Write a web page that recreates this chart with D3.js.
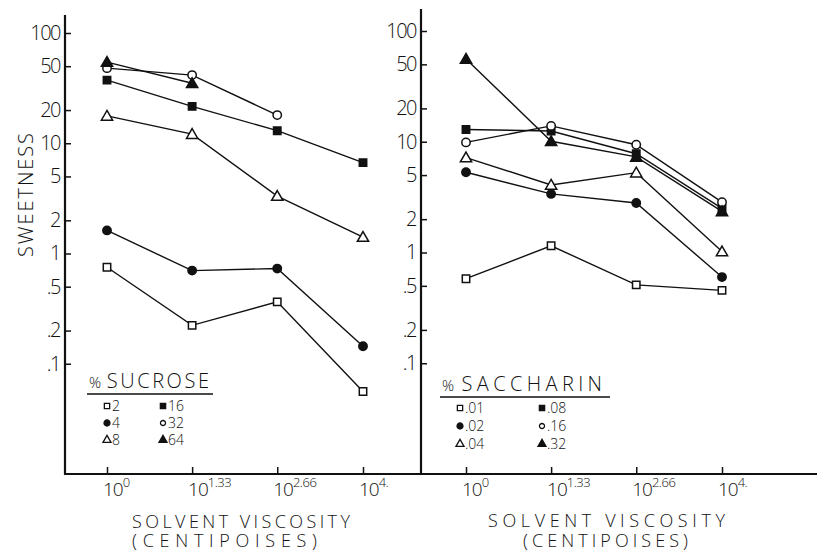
<!DOCTYPE html>
<html>
<head>
<meta charset="utf-8">
<script src="https://cdn.jsdelivr.net/npm/d3@7"></script>
<style>
  html, body { margin: 0; padding: 0; background: #fff; }
  svg { display: block; }
  text { font-family: "Open Sans", "DejaVu Sans", sans-serif; font-weight: 300; fill: #111; }
</style>
</head>
<body>
<div id="chart"></div>
<script>
// ---------- DATA ----------
const xExponents = [0, 1.33, 2.66, 4];
const xTickLabels = ["0", "1.33", "2.66", "4."];
const yTickValues = [100, 50, 20, 10, 5, 2, 1, 0.5, 0.2, 0.1];
const yTickLabels = ["100", "50", "20", "10", "5", "2", "1", ".5", ".2", ".1"];

const sucroseLabels = ["2", "4", "8", "16", "32", "64"];
const sucrose2  = [0.75, 0.223, 0.364, 0.056];
const sucrose4  = [1.62, 0.70, 0.73, 0.144];
const sucrose8  = [17.7, 12.1, 3.32, 1.41];
const sucrose16 = [37.4, 21.6, 13.0, 6.67];
const sucrose32 = [48, 41.5, 18];
const sucrose64 = [54.5, 35];

const saccharinLabels = [".01", ".02", ".04", ".08", ".16", ".32"];
const saccharin01 = [0.58, 1.15, 0.51, 0.455];
const saccharin02 = [5.3, 3.38, 2.8, 0.60];
const saccharin04 = [7.2, 4.07, 5.26, 1.02];
const saccharin08 = [12.9, 12.5, 7.8, 2.5];
const saccharin16 = [9.86, 13.9, 9.4, 2.85];
const saccharin32 = [56, 10.1, 7.3, 2.35];

// marker styles per series index: [shape, filled]
const markerStyles = [
  ["square", false], ["circle", true], ["triangle", false],
  ["square", true], ["circle", false], ["triangle", true]
];

// ---------- LAYOUT ----------
const W = 818, H = 553;
const baseY = 474;
const svg = d3.select("#chart").append("svg").attr("width", W).attr("height", H);

const panels = [
  { title: "SUCROSE", labels: sucroseLabels,
    series: [sucrose2, sucrose4, sucrose8, sucrose16, sucrose32, sucrose64],
    axisX: 65, axisTop: 15, xr: [107, 363], yr: [474, 33],
    legend: { x: 87, y: 388, w: 126, tw: 120, col1: 107, col2: 163, row0: 406, dy: 17 },
    t1: { x: 132, w: 218, y: 528 }, t2: { x: 132, w: 185, y: 547 } },
  { title: "SACCHARIN", labels: saccharinLabels,
    series: [saccharin01, saccharin02, saccharin04, saccharin08, saccharin16, saccharin32],
    axisX: 421, axisTop: 9, xr: [466, 722], yr: [474, 31],
    legend: { x: 440, y: 391, w: 170, tw: 160, col1: 460, col2: 542, row0: 408, dy: 18 },
    t1: { x: 488, w: 237, y: 527 }, t2: { x: 523, w: 165, y: 547 } }
];

function symbolPath(shape, size) {
  const t = shape === "square" ? d3.symbolSquare : shape === "circle" ? d3.symbolCircle : d3.symbolTriangle;
  return d3.symbol().type(t).size(size)();
}

// continuous baseline across both panels
svg.append("line").attr("x1", 64).attr("x2", 817).attr("y1", baseY).attr("y2", baseY)
  .attr("stroke", "#111").attr("stroke-width", 2.2);

panels.forEach(p => {
  const g = svg.append("g");
  const x = d3.scaleLinear().domain([0, 4]).range(p.xr);
  const y = d3.scaleLog().domain([0.01, 100]).range(p.yr);

  // y axis line
  g.append("line").attr("x1", p.axisX).attr("x2", p.axisX).attr("y1", p.axisTop).attr("y2", baseY + 1)
    .attr("stroke", "#111").attr("stroke-width", 2.2);

  // y axis ticks & labels
  const yAxis = d3.axisLeft(y).tickValues(yTickValues)
    .tickFormat((d, i) => yTickLabels[i]).tickSizeInner(-6).tickSizeOuter(0).tickPadding(5);
  const ya = g.append("g").attr("transform", `translate(${p.axisX},0)`).call(yAxis);
  ya.select(".domain").remove();
  ya.selectAll(".tick line").attr("stroke", "#111").attr("stroke-width", 1.5);
  ya.selectAll(".tick text").attr("font-size", 20).attr("letter-spacing", -1.5)
    .attr("font-family", "'Open Sans', 'DejaVu Sans', sans-serif").attr("fill", "#111");

  // x axis ticks
  const xAxis = d3.axisBottom(x).tickValues(xExponents).tickFormat("").tickSizeInner(-7).tickSizeOuter(0);
  const xa = g.append("g").attr("transform", `translate(0,${baseY})`).call(xAxis);
  xa.select(".domain").remove();
  xa.selectAll(".tick line").attr("stroke", "#111").attr("stroke-width", 1.5);
  xa.selectAll(".tick text").remove();
  // x tick labels with superscripts
  xExponents.forEach((e, i) => {
    const t = g.append("text").attr("x", x(e) - 4).attr("y", 496).attr("font-size", 19).attr("letter-spacing", -1);
    t.append("tspan").text("10");
    t.append("tspan").attr("dy", -9).attr("font-size", 13).attr("letter-spacing", -0.5).text(xTickLabels[i]);
  });

  // lines & markers
  const line = d3.line().x((d, i) => x(xExponents[i])).y(d => y(d));
  p.series.forEach(vals => {
    g.append("path").datum(vals).attr("d", line).attr("fill", "none")
      .attr("stroke", "#111").attr("stroke-width", 1.4);
  });
  p.series.forEach((vals, si) => {
    const [shape, filled] = markerStyles[si];
    g.selectAll(null).data(vals).enter().append("path")
      .attr("transform", (d, i) => `translate(${x(xExponents[i])},${y(d) + (shape === "triangle" ? 1 : 0)})`)
      .attr("d", symbolPath(shape, 55))
      .attr("fill", filled ? "#111" : "#fff").attr("stroke", "#111").attr("stroke-width", 1.5);
  });

  // legend
  const L = p.legend;
  const title = g.append("text").attr("x", L.x + 2).attr("y", L.y).attr("font-size", 20)
    .attr("textLength", L.tw).attr("lengthAdjust", "spacing");
  title.append("tspan").attr("font-size", 15).text("%");
  title.append("tspan").attr("dx", 3).text(p.title);
  g.append("line").attr("x1", L.x).attr("x2", L.x + L.w).attr("y1", L.y + 6).attr("y2", L.y + 6)
    .attr("stroke", "#111").attr("stroke-width", 1.5);
  p.labels.forEach((lab, i) => {
    const col = i < 3 ? L.col1 : L.col2;
    const row = i % 3;
    const cy = L.row0 + row * L.dy;
    const [shape, filled] = markerStyles[i];
    g.append("path").attr("transform", `translate(${col},${cy})`)
      .attr("d", symbolPath(shape, shape === "circle" && !filled ? 20 : 28))
      .attr("fill", filled ? "#111" : "#fff").attr("stroke", "#111").attr("stroke-width", 1.3);
    g.append("text").attr("x", col + 5).attr("y", cy + 5).attr("font-size", 14).text(lab);
  });

  // x axis title
  g.append("text").attr("x", p.t1.x).attr("y", p.t1.y)
    .attr("font-size", 18).attr("textLength", p.t1.w).attr("lengthAdjust", "spacing").text("SOLVENT VISCOSITY");
  g.append("text").attr("x", p.t2.x).attr("y", p.t2.y)
    .attr("font-size", 18).attr("textLength", p.t2.w).attr("lengthAdjust", "spacing").text("(CENTIPOISES)");
});

// y axis title
svg.append("text").attr("transform", "translate(33,195) rotate(-90)").attr("text-anchor", "middle")
  .attr("font-size", 20).attr("textLength", 124).attr("lengthAdjust", "spacing").text("SWEETNESS");
</script>
</body>
</html>
